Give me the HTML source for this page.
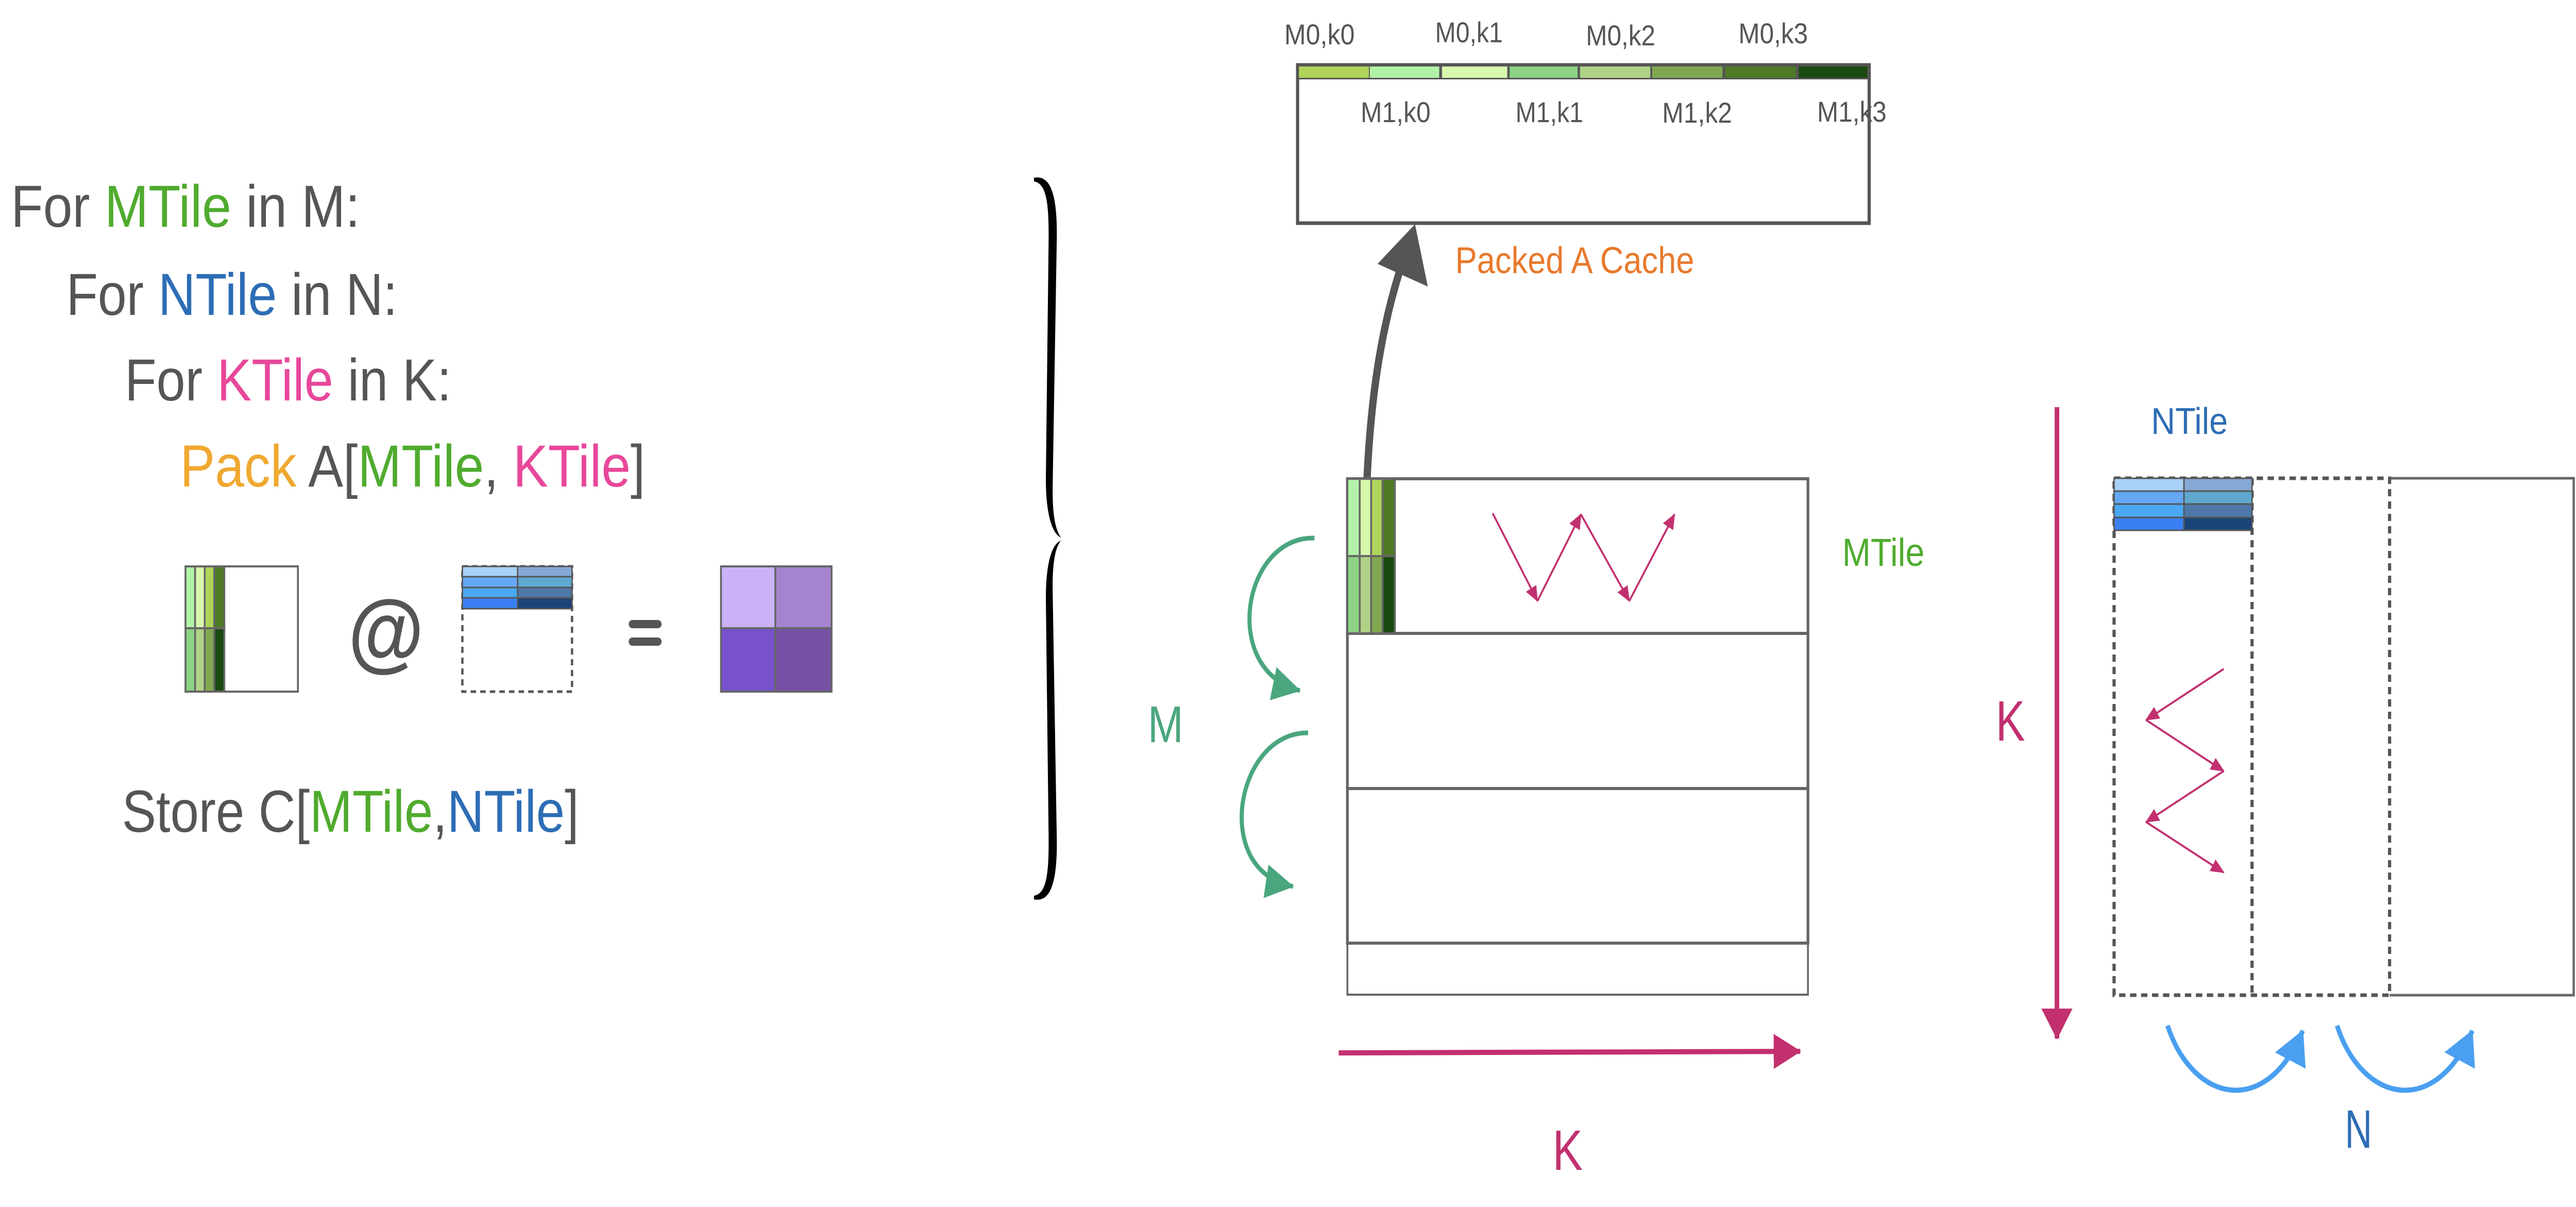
<!DOCTYPE html>
<html><head><meta charset="utf-8"><style>
html,body{margin:0;padding:0;background:#fff;width:100%;height:100%;overflow:hidden;}
svg{display:block;width:100vw;height:100vh;font-family:"Liberation Sans",sans-serif;}
</style></head><body>
<svg viewBox="0 0 5638 2342" preserveAspectRatio="none" xmlns="http://www.w3.org/2000/svg">
<defs>
<marker id="pk" markerUnits="userSpaceOnUse" markerWidth="30" markerHeight="26" refX="28" refY="13" orient="auto"><path d="M0,0 L30,13 L0,26 Z" fill="#c2306f"/></marker>
<marker id="pkB" markerUnits="userSpaceOnUse" markerWidth="60" markerHeight="68" refX="58" refY="34" orient="auto"><path d="M0,0 L60,34 L0,68 Z" fill="#c2306f"/></marker>
<marker id="tl" markerUnits="userSpaceOnUse" markerWidth="62" markerHeight="66" refX="60" refY="33" orient="auto"><path d="M0,0 L62,33 L0,66 Z" fill="#4aa67e"/></marker>
<marker id="bl" markerUnits="userSpaceOnUse" markerWidth="66" markerHeight="74" refX="64" refY="37" orient="auto"><path d="M0,0 L66,37 L0,74 Z" fill="#4a9ff0"/></marker>
</defs>

<g font-size="115" fill="#555">
<text x="24" y="440" textLength="764" lengthAdjust="spacingAndGlyphs">For <tspan fill="#4fab2e">MTile</tspan> in M:</text>
<text x="145" y="611" textLength="725" lengthAdjust="spacingAndGlyphs">For <tspan fill="#2d6db5">NTile</tspan> in N:</text>
<text x="273" y="777" textLength="715" lengthAdjust="spacingAndGlyphs">For <tspan fill="#e8479a">KTile</tspan> in K:</text>
<text x="394" y="944" textLength="1018" lengthAdjust="spacingAndGlyphs"><tspan fill="#f0a830">Pack</tspan> A[<tspan fill="#4fab2e">MTile</tspan>, <tspan fill="#e8479a">KTile</tspan>]</text>
<text x="267" y="1614" textLength="1000" lengthAdjust="spacingAndGlyphs">Store C[<tspan fill="#4fab2e">MTile</tspan>,<tspan fill="#2d6db5">NTile</tspan>]</text>
</g>

<g stroke="#666" stroke-width="4">
<rect x="406" y="1099" width="246" height="243" fill="#fff"/>
<rect x="406" y="1099" width="21" height="120" fill="#b2f2a8"/>
<rect x="427" y="1099" width="21" height="120" fill="#d8f8ac"/>
<rect x="448" y="1099" width="21" height="120" fill="#b0d45a"/>
<rect x="469" y="1099" width="22" height="120" fill="#4e7a25"/>
<rect x="406" y="1219" width="21" height="123" fill="#8bd283"/>
<rect x="427" y="1219" width="21" height="123" fill="#b0d286"/>
<rect x="448" y="1219" width="21" height="123" fill="#81a850"/>
<rect x="469" y="1219" width="22" height="123" fill="#1a4a10"/>
</g>
<text x="762" y="1283" font-size="170" font-weight="bold" fill="#555">@</text>
<rect x="1012" y="1099" width="240" height="243" fill="#fff" stroke="#555" stroke-width="5" stroke-dasharray="12 9"/>
<g stroke="#555" stroke-width="3">
<rect x="1012" y="1099" width="121" height="20" fill="#a8d0f8"/><rect x="1133" y="1099" width="119" height="20" fill="#86a8d4"/>
<rect x="1012" y="1119" width="121" height="21" fill="#64a8f4"/><rect x="1133" y="1119" width="119" height="21" fill="#5ea8d0"/>
<rect x="1012" y="1140" width="121" height="20" fill="#4aa8f4"/><rect x="1133" y="1140" width="119" height="20" fill="#4e78a8"/>
<rect x="1012" y="1160" width="121" height="21" fill="#3a80f4"/><rect x="1133" y="1160" width="119" height="21" fill="#1a4478"/>
</g>
<rect x="1376" y="1203" width="72" height="16" rx="8" fill="#555"/>
<rect x="1376" y="1237" width="72" height="16" rx="8" fill="#555"/>
<g stroke="#666" stroke-width="4">
<rect x="1578" y="1099" width="119" height="120" fill="#cbb2f6"/>
<rect x="1697" y="1099" width="123" height="120" fill="#a584cf"/>
<rect x="1578" y="1219" width="119" height="123" fill="#7752cc"/>
<rect x="1697" y="1219" width="123" height="123" fill="#7650a4"/>
</g>

<path d="M2263,345 C2300,338 2314,380 2313,460 L2304,940 C2303,1000 2310,1028 2322,1043 C2300,1034 2289,990 2289,930 L2295,470 C2296,392 2290,356 2263,352 Z" fill="#000"/>
<path d="M2263,1745 C2300,1752 2314,1710 2313,1630 L2304,1150 C2303,1090 2310,1062 2322,1049 C2300,1056 2289,1100 2289,1160 L2295,1620 C2296,1698 2290,1734 2263,1738 Z" fill="#000"/>

<rect x="2840" y="126" width="1251" height="307" fill="#fff" stroke="#555" stroke-width="7"/>
<rect x="2840" y="124" width="1251" height="30" fill="#555"/>
<rect x="2843" y="129" width="153" height="22" fill="#b0d45a"/>
<rect x="2998" y="129" width="152" height="22" fill="#b2f2a8"/>
<rect x="3156" y="129" width="143" height="22" fill="#d8f8ac"/>
<rect x="3304" y="129" width="149" height="22" fill="#8bd283"/>
<rect x="3458" y="129" width="154" height="22" fill="#b0d286"/>
<rect x="3616" y="129" width="154" height="22" fill="#81a850"/>
<rect x="3776" y="129" width="155" height="22" fill="#4e7a25"/>
<rect x="3937" y="129" width="150" height="22" fill="#1a4a10"/>
<g font-size="56" fill="#555">
<text x="2811" y="86" textLength="154" lengthAdjust="spacingAndGlyphs">M0,k0</text>
<text x="3141" y="82" textLength="148" lengthAdjust="spacingAndGlyphs">M0,k1</text>
<text x="3471" y="88" textLength="152" lengthAdjust="spacingAndGlyphs">M0,k2</text>
<text x="3805" y="84" textLength="152" lengthAdjust="spacingAndGlyphs">M0,k3</text>
<text x="2978" y="237" textLength="153" lengthAdjust="spacingAndGlyphs">M1,k0</text>
<text x="3317" y="237" textLength="148" lengthAdjust="spacingAndGlyphs">M1,k1</text>
<text x="3638" y="238" textLength="153" lengthAdjust="spacingAndGlyphs">M1,k2</text>
<text x="3977" y="236" textLength="152" lengthAdjust="spacingAndGlyphs">M1,k3</text>
</g>
<text x="3185" y="530" font-size="72" fill="#e8792b" textLength="523" lengthAdjust="spacingAndGlyphs">Packed A Cache</text>
<path d="M2992,928 C3000,780 3020,650 3062,530" fill="none" stroke="#555" stroke-width="16"/>
<path d="M3097,435 L3015,512 L3125,556 Z" fill="#555"/>

<g fill="none" stroke="#666">
<rect x="2949" y="1830" width="1008" height="100" stroke-width="4"/>
<rect x="2949" y="1530" width="1008" height="300" stroke-width="6"/>
<rect x="2949" y="1229" width="1008" height="301" stroke-width="6"/>
<rect x="2949" y="929" width="1008" height="300" stroke-width="6"/>
</g>
<g stroke="#666" stroke-width="4">
<rect x="2949" y="929" width="27" height="150" fill="#b2f2a8"/>
<rect x="2976" y="929" width="25" height="150" fill="#d8f8ac"/>
<rect x="3001" y="929" width="25" height="150" fill="#b0d45a"/>
<rect x="3026" y="929" width="27" height="150" fill="#4e7a25"/>
<rect x="2949" y="1079" width="27" height="150" fill="#8bd283"/>
<rect x="2976" y="1079" width="25" height="150" fill="#b0d286"/>
<rect x="3001" y="1079" width="25" height="150" fill="#81a850"/>
<rect x="3026" y="1079" width="27" height="150" fill="#1a4a10"/>
</g>
<g fill="none" stroke="#c2306f" stroke-width="4">
<line x1="3267" y1="996" x2="3365" y2="1166" marker-end="url(#pk)"/>
<line x1="3365" y1="1166" x2="3460" y2="998" marker-end="url(#pk)"/>
<line x1="3460" y1="998" x2="3566" y2="1166" marker-end="url(#pk)"/>
<line x1="3566" y1="1166" x2="3665" y2="998" marker-end="url(#pk)"/>
</g>
<text x="4032" y="1098" font-size="76" fill="#4fab2e" textLength="180" lengthAdjust="spacingAndGlyphs">MTile</text>
<g fill="none" stroke="#4aa67e" stroke-width="9">
<path d="M2877,1044 C2720,1040 2670,1300 2845,1340" marker-end="url(#tl)"/>
<path d="M2863,1422 C2705,1420 2650,1690 2830,1720" marker-end="url(#tl)"/>
</g>
<text x="2512" y="1440" font-size="100" fill="#4aa67e" textLength="78" lengthAdjust="spacingAndGlyphs">M</text>
<line x1="2930" y1="2043" x2="3940" y2="2040" stroke="#c2306f" stroke-width="10" marker-end="url(#pkB)"/>
<text x="3398" y="2270" font-size="110" fill="#c2306f" textLength="66" lengthAdjust="spacingAndGlyphs">K</text>

<path d="M5230,928 L5633,928 L5633,1931 L5230,1931" fill="none" stroke="#666" stroke-width="5"/>
<rect x="4627" y="928" width="603" height="1003" fill="none" stroke="#555" stroke-width="7" stroke-dasharray="14 10"/>
<line x1="4929" y1="928" x2="4929" y2="1931" stroke="#555" stroke-width="7" stroke-dasharray="14 10"/>
<g stroke="#555" stroke-width="3">
<rect x="4627" y="928" width="153" height="25" fill="#a8d0f8"/><rect x="4780" y="928" width="149" height="25" fill="#86a8d4"/>
<rect x="4627" y="953" width="153" height="25" fill="#64a8f4"/><rect x="4780" y="953" width="149" height="25" fill="#5ea8d0"/>
<rect x="4627" y="978" width="153" height="26" fill="#4aa8f4"/><rect x="4780" y="978" width="149" height="26" fill="#4e78a8"/>
<rect x="4627" y="1004" width="153" height="25" fill="#3a80f4"/><rect x="4780" y="1004" width="149" height="25" fill="#1a4478"/>
</g>
<text x="4708" y="842" font-size="72" fill="#2d6db5" textLength="168" lengthAdjust="spacingAndGlyphs">NTile</text>
<line x1="4502" y1="790" x2="4502" y2="2015" stroke="#c2306f" stroke-width="10" marker-end="url(#pkB)"/>
<text x="4368" y="1437" font-size="110" fill="#c2306f" textLength="64" lengthAdjust="spacingAndGlyphs">K</text>
<g fill="none" stroke="#c2306f" stroke-width="4">
<line x1="4867" y1="1298" x2="4697" y2="1397" marker-end="url(#pk)"/>
<line x1="4697" y1="1397" x2="4867" y2="1496" marker-end="url(#pk)"/>
<line x1="4867" y1="1496" x2="4697" y2="1595" marker-end="url(#pk)"/>
<line x1="4697" y1="1595" x2="4867" y2="1693" marker-end="url(#pk)"/>
</g>
<g fill="none" stroke="#4a9ff0" stroke-width="10">
<path d="M4744,1990 C4800,2140 4960,2170 5040,2000" marker-end="url(#bl)"/>
<path d="M5115,1990 C5170,2140 5330,2170 5411,2000" marker-end="url(#bl)"/>
</g>
<text x="5132" y="2227" font-size="105" fill="#2d6db5" textLength="60" lengthAdjust="spacingAndGlyphs">N</text>
</svg>
</body></html>
